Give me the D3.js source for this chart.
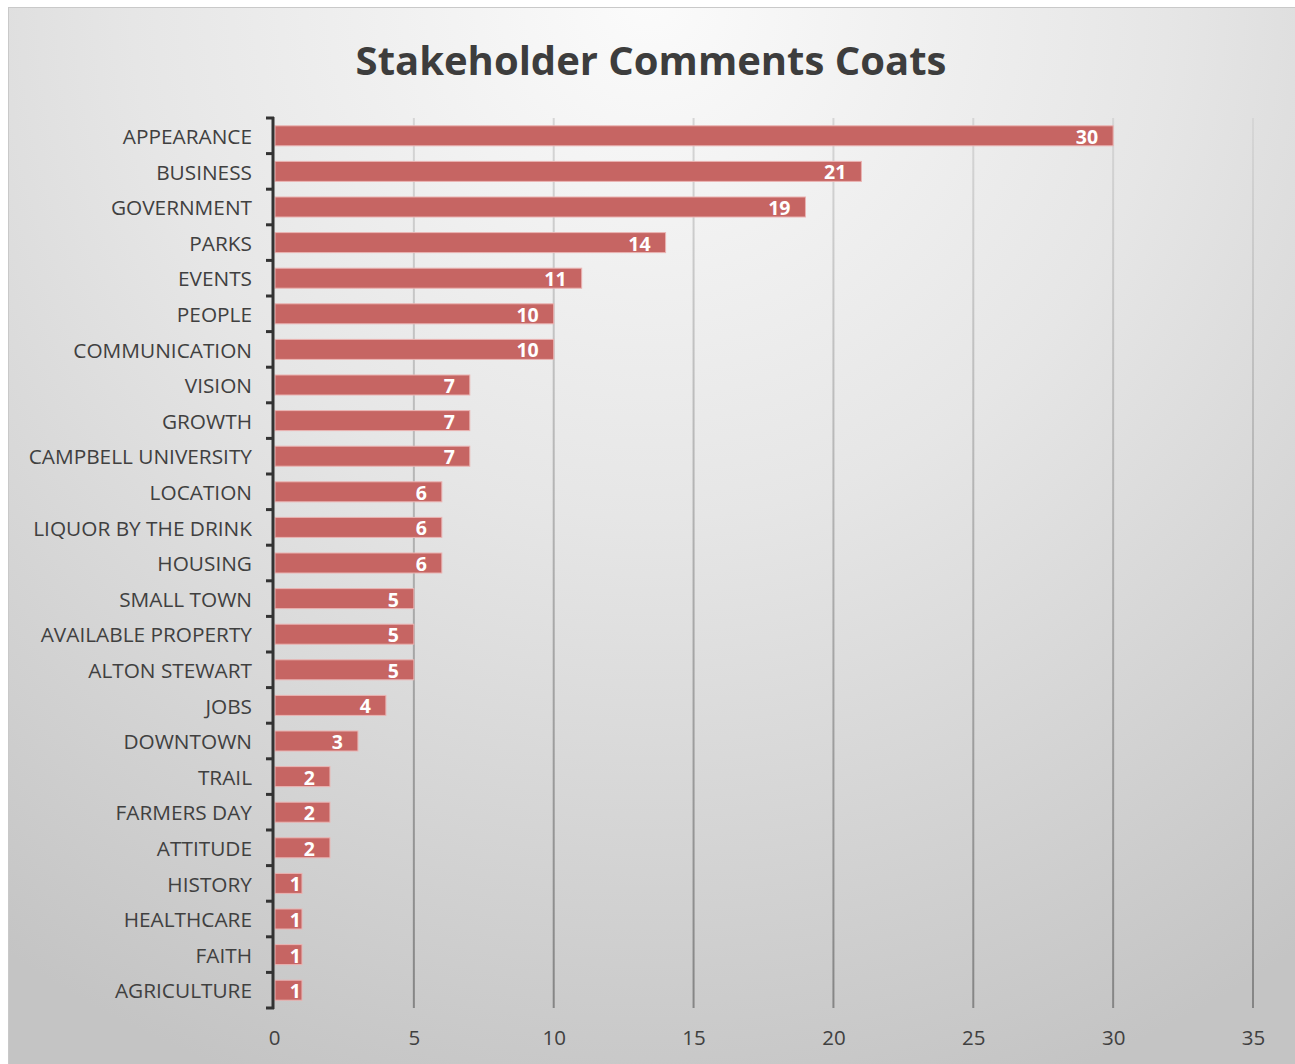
<!DOCTYPE html>
<html>
<head>
<meta charset="utf-8">
<script src="https://cdn.jsdelivr.net/npm/d3@7"></script>
<style>
  html, body { margin: 0; padding: 0; background: #ffffff; }
  svg { display: block; }
</style>
</head>
<body>
<svg id="chart" width="1295" height="1064"></svg>
<script>
// Comment counts by topic
const categories = [
  "APPEARANCE", "BUSINESS", "GOVERNMENT", "PARKS", "EVENTS", "PEOPLE",
  "COMMUNICATION", "VISION", "GROWTH", "CAMPBELL UNIVERSITY", "LOCATION",
  "LIQUOR BY THE DRINK", "HOUSING", "SMALL TOWN", "AVAILABLE PROPERTY",
  "ALTON STEWART", "JOBS", "DOWNTOWN", "TRAIL", "FARMERS DAY", "ATTITUDE",
  "HISTORY", "HEALTHCARE", "FAITH", "AGRICULTURE"
];
const counts = [30, 21, 19, 14, 11, 10, 10, 7, 7, 7, 6, 6, 6, 5, 5, 5, 4, 3, 2, 2, 2, 1, 1, 1, 1];
const xTicks = [0, 5, 10, 15, 20, 25, 30, 35];
const titleText = "Stakeholder Comments Coats";

const W = 1295, H = 1064;
const margin = { left: 274, right: 42, top: 118, bottom: 56 };
const svg = d3.select("#chart");
const defs = svg.append("defs");

// Soft radial backdrop, bright near the title and darker towards the bottom
const bg = defs.append("radialGradient")
  .attr("id", "bgGrad")
  .attr("gradientUnits", "userSpaceOnUse")
  .attr("cx", 650).attr("cy", 0).attr("r", 1150)
  .attr("fx", 650).attr("fy", 0);
bg.append("stop").attr("offset", "0%").attr("stop-color", "#fbfbfb");
bg.append("stop").attr("offset", "45%").attr("stop-color", "#e6e6e6");
bg.append("stop").attr("offset", "100%").attr("stop-color", "#c4c4c4");

// Gridlines fade from light at the top to darker at the bottom
const gg = defs.append("linearGradient")
  .attr("id", "gridGrad")
  .attr("gradientUnits", "userSpaceOnUse")
  .attr("x1", 0).attr("y1", margin.top).attr("x2", 0).attr("y2", H - margin.bottom);
gg.append("stop").attr("offset", "0%").attr("stop-color", "#d6d6d6");
gg.append("stop").attr("offset", "100%").attr("stop-color", "#858585");

svg.append("rect")
  .attr("x", 8.5).attr("y", 7.5)
  .attr("width", W).attr("height", H)
  .attr("fill", "url(#bgGrad)")
  .attr("stroke", "#c9c9c9").attr("stroke-width", 1);

const x = d3.scaleLinear().domain([0, 35]).range([margin.left, W - margin.right]);
const y = d3.scaleBand().domain(categories)
  .range([margin.top, H - margin.bottom])
  .paddingInner(0.41).paddingOuter(0.205);

// Vertical gridlines
svg.append("g")
  .selectAll("line")
  .data(xTicks.filter(d => d > 0))
  .join("line")
  .attr("x1", d => x(d)).attr("x2", d => x(d))
  .attr("y1", margin.top).attr("y2", H - margin.bottom)
  .attr("stroke", "url(#gridGrad)")
  .attr("stroke-width", 2);

// Bars
svg.append("g")
  .selectAll("rect")
  .data(counts)
  .join("rect")
  .attr("x", x(0) + 1)
  .attr("y", (d, i) => y(categories[i]) + 0.5)
  .attr("width", d => x(d) - x(0) - 1)
  .attr("height", y.bandwidth() - 1)
  .attr("fill", "#c66563")
  .attr("stroke", "#eab4b3")
  .attr("stroke-width", 1);

// Value labels at the inside end of each bar
svg.append("g")
  .selectAll("text")
  .data(counts)
  .join("text")
  .attr("x", d => (x(d) - x(0) < 40) ? x(d) - 1 : x(d) - 15)
  .attr("y", (d, i) => y(categories[i]) + y.bandwidth() / 2 + 1)
  .attr("dy", "0.36em")
  .attr("text-anchor", "end")
  .attr("font-family", "'Open Sans', sans-serif")
  .attr("font-weight", "bold")
  .attr("font-size", 19.5)
  .attr("fill", "#ffffff")
  .text(d => d);

// Category axis
const yAxis = d3.axisLeft(y).tickSize(0).tickPadding(21);
const yg = svg.append("g")
  .attr("transform", `translate(${margin.left - 1},1.5)`)
  .call(yAxis);
yg.select(".domain").remove();
yg.selectAll("text")
  .attr("font-family", "'Open Sans', sans-serif")
  .attr("font-size", 20.8)
  .attr("fill", "#404040");

// Axis spine with tick marks on band boundaries
const bounds = categories.map(c => y(c) - y.step() * y.paddingInner() / 2);
bounds.push(H - margin.bottom);
bounds[0] = margin.top;
svg.append("line")
  .attr("x1", margin.left - 1).attr("x2", margin.left - 1)
  .attr("y1", margin.top - 1).attr("y2", H - margin.bottom + 1)
  .attr("stroke", "#333333").attr("stroke-width", 3);
svg.append("g")
  .selectAll("line")
  .data(bounds)
  .join("line")
  .attr("x1", margin.left - 8).attr("x2", margin.left)
  .attr("y1", d => d).attr("y2", d => d)
  .attr("stroke", "#333333").attr("stroke-width", 3);

// Value axis labels
const xAxis = d3.axisBottom(x).tickValues(xTicks).tickSize(0).tickPadding(22);
const xg = svg.append("g")
  .attr("transform", `translate(0,${H - margin.bottom})`)
  .call(xAxis);
xg.select(".domain").remove();
xg.selectAll("text")
  .attr("font-family", "'Open Sans', sans-serif")
  .attr("font-size", 20.5)
  .attr("fill", "#404040");

// Title
svg.append("text")
  .attr("x", 651).attr("y", 75)
  .attr("text-anchor", "middle")
  .attr("font-family", "'Open Sans', sans-serif")
  .attr("font-weight", "bold")
  .attr("font-size", 40)
  .attr("fill", "#3d3d3d")
  .text(titleText);
</script>
</body>
</html>
